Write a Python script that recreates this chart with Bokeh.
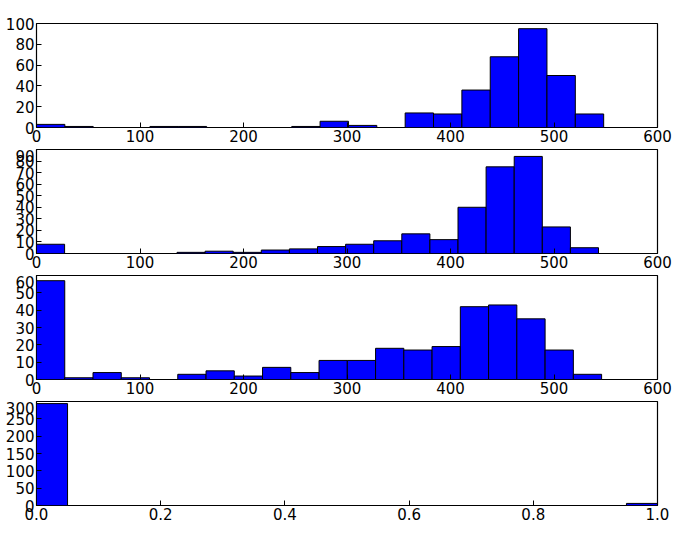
from bokeh.models import Range1d, FixedTicker, Label, NumeralTickFormatter
from bokeh.plotting import figure
from bokeh.layouts import column
from bokeh.embed import file_html
from bokeh.resources import INLINE

titles = ["300 delayed steps", "150 delayed steps", "75 delayed steps", "0 delayed steps"]
# bin upper data limits (20 equal bins from 0)
data_max = [548, 543, 546, 1.0]
counts_300 = [3, 1, 0, 0, 1, 1, 0, 0, 0, 1, 6, 2, 0, 14, 13, 36, 68, 95, 50, 13]
counts_150 = [8, 0, 0, 0, 0, 1, 2, 1, 3, 4, 6, 8, 11, 17, 12, 40, 75, 84, 23, 5]
counts_75 = [57, 1, 4, 1, 0, 3, 5, 2, 7, 4, 11, 11, 18, 17, 19, 42, 43, 35, 17, 3]
counts_0 = [294, 0, 0, 0, 0, 0, 0, 0, 0, 0, 0, 0, 0, 0, 0, 0, 0, 0, 0, 6]
all_counts = [counts_300, counts_150, counts_75, counts_0]
x_ranges = [(0, 600), (0, 600), (0, 600), (0, 1)]
x_ticks = [[0, 100, 200, 300, 400, 500, 600]] * 3 + [[0, 0.2, 0.4, 0.6, 0.8, 1.0]]
y_ranges = [(0, 100), (0, 90), (0, 60), (0, 300)]
y_ticks = [list(range(0, 101, 20)), list(range(0, 91, 10)), list(range(0, 61, 10)), list(range(0, 301, 50))]

FONT = "DejaVu Sans"
figs = []
for i in range(4):
    p = figure(width=681, height=126 + (23 if i == 0 else 0), frame_height=104, frame_width=621,
               output_backend="svg", toolbar_location=None, tools="",
               x_range=Range1d(*x_ranges[i]), y_range=Range1d(*y_ranges[i]),
               min_border_left=36, min_border_right=24,
               min_border_top=23 if i == 0 else 0, min_border_bottom=22)
    w = data_max[i] / 20
    lefts = [k * w for k in range(20)]
    rights = [(k + 1) * w for k in range(20)]
    p.quad(left=lefts, right=rights, bottom=0, top=all_counts[i],
           fill_color="#0000ff", line_color="black", line_width=1)
    p.xaxis.ticker = FixedTicker(ticks=x_ticks[i])
    p.yaxis.ticker = FixedTicker(ticks=y_ticks[i])
    if i == 3:
        p.xaxis.formatter = NumeralTickFormatter(format="0.0")
    for ax in (p.xaxis, p.yaxis):
        ax.major_label_text_font = FONT
        ax.major_label_text_font_size = "15px"
        ax.major_label_text_color = "black"
        ax.major_tick_in = 5
        ax.major_tick_out = 0
        ax.minor_tick_line_color = None
        ax.axis_line_color = None
        ax.major_label_standoff = 2
    p.grid.grid_line_color = None
    p.outline_line_color = "black"
    p.outline_line_width = 1.2
    figs.append(p)

# titles: first one above its own frame, others drawn in the figure above
# (each figure has its own canvas, so text above frame would be cut)
for i in range(4):
    if i == 0:
        host, y, off = figs[0], y_ranges[0][1], 2
    else:
        host, y, off = figs[i - 1], y_ranges[i - 1][0], -20
    xr = x_ranges[i - 1] if i > 0 else x_ranges[0]
    host.add_layout(Label(x=(xr[0] + xr[1]) / 2, y=y, y_offset=off,
                          text=titles[i], text_align="center", text_baseline="bottom",
                          text_font=FONT, text_font_size="17px", text_color="black"))

layout = column(*figs, spacing=0)
open("out.html", "w").write(file_html(layout, INLINE))
